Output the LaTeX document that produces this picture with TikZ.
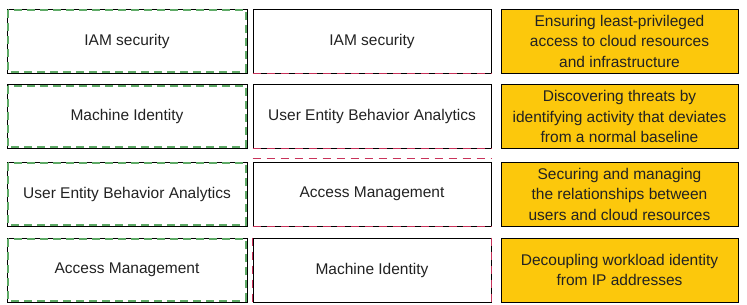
\documentclass[tikz,border=0pt]{standalone}
\usepackage{fontspec}
\setmainfont{Liberation Sans}
\usepackage{tikz}
\usetikzlibrary{positioning}
\definecolor{dgreen}{HTML}{5EAA66}
\definecolor{dred}{HTML}{C8325A}
\definecolor{dyellow}{HTML}{FCC80C}
\definecolor{dtext}{HTML}{222222}

\tikzset{
  termbox/.style={draw=black, line width=0.7pt, minimum width=238pt,
    minimum height=64pt, inner sep=0pt, align=center, text=dtext,
    font=\fontsize{15.5}{20.5}\selectfont},
  defbox/.style={termbox, fill=dyellow},
  greendash/.style={draw=dgreen, line width=2pt, dash pattern=on 8pt off 5pt},
  reddash/.style={draw=dred, line width=0.9pt, dash pattern=on 8pt off 6pt},
}

\begin{document}
\begin{tikzpicture}[x=1pt,y=-1pt]

  \useasboundingbox (0,0) rectangle (747,305);
  \fill[white] (0,0) rectangle (747,305);

  \def\xa{127}\def\xb{372}\def\xc{619.5}

  % coluna esquerda
  \node[termbox, minimum width=240pt] (l1) at (\xa,41)    {IAM security};
  \node[termbox, minimum width=240pt] (l2) at (\xa,116.5) {Machine Identity};
  \node[termbox, minimum width=240pt] (l3) at (\xa,194)   {User Entity Behavior Analytics};
  \node[termbox, minimum width=240pt] (l4) at (\xa,270)   {Access Management};

  % coluna do meio
  \node[termbox] (m1) at (\xb,41)    {IAM security};
  \node[termbox] (m2) at (\xb,116.5) {User Entity Behavior Analytics};
  \node[termbox] (m3) at (\xb,194)   {Access Management};
  \node[termbox] (m4) at (\xb,270)   {Machine Identity};

  % coluna direita
  \node[defbox, minimum width=237pt] (r1) at (\xc,41)
    {Ensuring least-privileged\\access to cloud resources\\and infrastructure};
  \node[defbox, minimum width=237pt] (r2) at (\xc,116.5)
    {Discovering threats by\\identifying activity that deviates\\from a normal baseline};
  \node[defbox, minimum width=237pt] (r3) at (\xc,194)
    {Securing and managing\\the relationships between\\users and cloud resources};
  \node[defbox, minimum width=237pt] (r4) at (\xc,270)
    {Decoupling workload identity\\from IP addresses};

  % tracejados
  \foreach \n in {l1,l2,l3,l4}
    \draw[greendash] ([shift={(1.5pt,-1.5pt)}]\n.north west)
      rectangle ([shift={(-1.5pt,1.5pt)}]\n.south east);
  \foreach \n in {m1,m2,m3}
    \draw[reddash] (\n.south west) -- (\n.south east);
  \draw[reddash] ([yshift=3pt]m3.north west) -- ([yshift=3pt]m3.north east);
  \draw[reddash] (m4.north west) -- (m4.south west);
  \draw[reddash] (m4.north east) -- (m4.south east);

\end{tikzpicture}
\end{document}
